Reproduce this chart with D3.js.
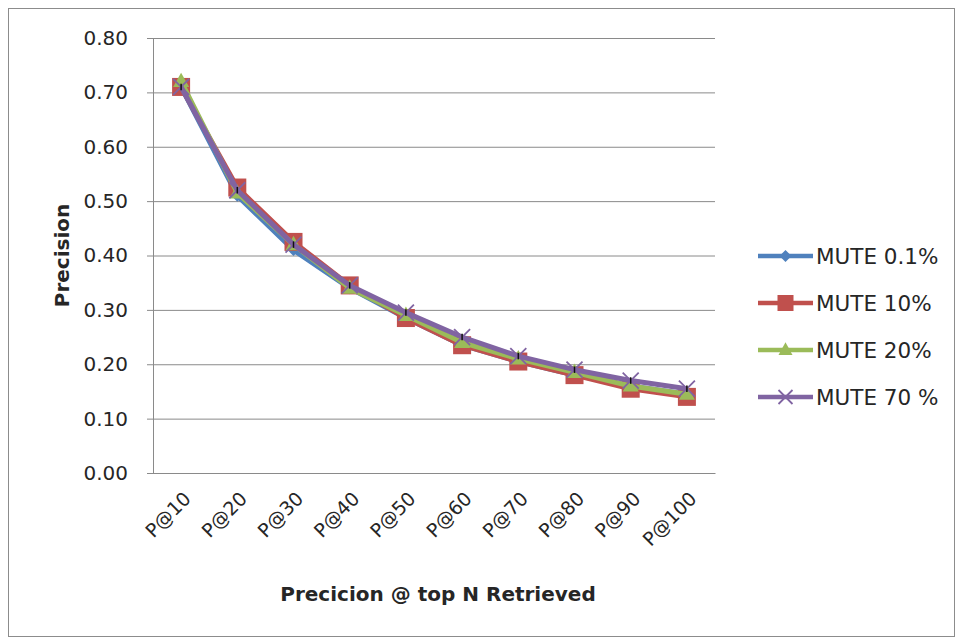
<!DOCTYPE html>
<html>
<head>
<meta charset="utf-8">
<script src="https://cdn.jsdelivr.net/npm/d3@7/dist/d3.min.js"></script>
<style>
  html, body { margin: 0; padding: 0; background: #fff; }
  svg { display: block; font-family: "DejaVu Sans", sans-serif; }
</style>
</head>
<body>
<svg id="chart" width="957" height="639"></svg>
<script>
// Precision at top-N retrieved, for four MUTE settings
const categories = ["P@10", "P@20", "P@30", "P@40", "P@50", "P@60", "P@70", "P@80", "P@90", "P@100"];
const seriesNames = ["MUTE 0.1%", "MUTE 10%", "MUTE 20%", "MUTE 70 %"];
const mute01 = [0.710, 0.510, 0.410, 0.340, 0.285, 0.235, 0.205, 0.180, 0.160, 0.145];
const mute10 = [0.710, 0.525, 0.425, 0.345, 0.285, 0.235, 0.205, 0.180, 0.155, 0.140];
const mute20 = [0.720, 0.515, 0.420, 0.340, 0.290, 0.240, 0.210, 0.185, 0.160, 0.145];
const mute70 = [0.710, 0.520, 0.420, 0.345, 0.295, 0.250, 0.215, 0.190, 0.170, 0.155];
const errHalf = [0.006, 0.006, 0.006, 0.006, 0.006, 0.006, 0.006, 0.006, 0.006, 0.006];
const yTicks = [0, 0.1, 0.2, 0.3, 0.4, 0.5, 0.6, 0.7, 0.8];

const colors = ["#4F81BD", "#C0504D", "#9BBB59", "#8064A2"];
const markers = ["diamond", "square", "triangle", "cross"];
const seriesValues = [mute01, mute10, mute20, mute70];

const svg = d3.select("#chart");
const textColor = "#262626";

// outer chart frame
svg.append("rect")
  .attr("x", 8.5).attr("y", 8.5).attr("width", 946).attr("height", 628)
  .attr("fill", "#fff").attr("stroke", "#8c8c8c").attr("stroke-width", 1);

const plot = { left: 153, right: 715, top: 38, bottom: 473 };

const x = d3.scaleBand().domain(categories).range([plot.left, plot.right]);
const y = d3.scaleLinear().domain([0, 0.8]).range([plot.bottom, plot.top]);

// horizontal gridlines with tick marks on the left
const yAxis = d3.axisLeft(y)
  .tickValues(yTicks)
  .tickFormat(d3.format(".2f"))
  .tickSize(-(plot.right - plot.left))
  .tickPadding(25);
const gy = svg.append("g").attr("transform", `translate(${plot.left},0)`).call(yAxis);
gy.select(".domain").remove();
gy.selectAll(".tick line")
  .attr("x1", -6)
  .attr("stroke", "#8a8a8a").attr("stroke-width", 1);
gy.selectAll(".tick text")
  .attr("fill", textColor).attr("font-size", 20).attr("font-family", "DejaVu Sans");

// vertical axis line
svg.append("line")
  .attr("x1", plot.left + 0.5).attr("x2", plot.left + 0.5)
  .attr("y1", plot.top).attr("y2", plot.bottom)
  .attr("stroke", "#8a8a8a");

// category axis
const xAxis = d3.axisBottom(x).tickSize(0).tickPadding(0);
const gx = svg.append("g").attr("transform", `translate(0,${plot.bottom})`).call(xAxis);
gx.select(".domain").attr("stroke", "#8a8a8a");
gx.selectAll(".tick text")
  .attr("fill", textColor).attr("font-size", 19).attr("font-family", "DejaVu Sans")
  .attr("text-anchor", "end")
  .attr("dy", 0)
  .attr("y", 0)
  .attr("transform", "translate(11,27) rotate(-45)");

// axis titles
svg.append("text")
  .attr("transform", `translate(69,${(plot.top + plot.bottom) / 2}) rotate(-90)`)
  .attr("text-anchor", "middle")
  .attr("font-size", 20).attr("font-weight", "bold").attr("fill", textColor)
  .text("Precision");
svg.append("text")
  .attr("x", 438).attr("y", 601)
  .attr("text-anchor", "middle")
  .attr("font-size", 20).attr("font-weight", "bold").attr("fill", textColor)
  .text("Precicion @ top N Retrieved");

const cx = c => x(c) + x.bandwidth() / 2;

function drawMarker(g, type, color, px, py, s) {
  if (type === "diamond") {
    g.append("path")
      .attr("d", `M${px},${py - s}L${px + s},${py}L${px},${py + s}L${px - s},${py}Z`)
      .attr("fill", color);
  } else if (type === "square") {
    g.append("rect")
      .attr("x", px - s).attr("y", py - s).attr("width", 2 * s).attr("height", 2 * s)
      .attr("fill", color);
  } else if (type === "triangle") {
    g.append("path")
      .attr("d", `M${px},${py - s * 1.1}L${px + s},${py + s * 0.7}L${px - s},${py + s * 0.7}Z`)
      .attr("fill", color);
  } else {
    g.append("path")
      .attr("d", `M${px - s},${py - s}L${px + s},${py + s}M${px + s},${py - s}L${px - s},${py + s}`)
      .attr("stroke", color).attr("stroke-width", 1.8).attr("fill", "none");
  }
}

const line = d3.line().x((d, i) => cx(categories[i])).y(d => y(d));
const markerSize = [6, 9, 8, 8];

seriesValues.forEach((vals, k) => {
  const g = svg.append("g");
  g.append("path")
    .datum(vals)
    .attr("d", line)
    .attr("fill", "none")
    .attr("stroke", colors[k])
    .attr("stroke-width", 5)
    .attr("stroke-linejoin", "round");
  vals.forEach((v, i) => drawMarker(g, markers[k], colors[k], cx(categories[i]), y(v), markerSize[k]));
});

// small error bars on the last series
const gErr = svg.append("g");
mute70.forEach((v, i) => {
  gErr.append("line")
    .attr("x1", cx(categories[i])).attr("x2", cx(categories[i]))
    .attr("y1", y(v + errHalf[i])).attr("y2", y(v - errHalf[i]))
    .attr("stroke", "#111").attr("stroke-width", 1.5);
});

// legend
const legend = svg.append("g");
const legendMarker = [6, 8, 7, 7];
seriesNames.forEach((name, k) => {
  const ly = 256 + k * 47;
  legend.append("line")
    .attr("x1", 758).attr("x2", 813).attr("y1", ly).attr("y2", ly)
    .attr("stroke", colors[k]).attr("stroke-width", 4.5);
  drawMarker(legend, markers[k], colors[k], 785.5, ly, legendMarker[k]);
  legend.append("text")
    .attr("x", 816).attr("y", ly).attr("dy", "0.36em")
    .attr("font-size", 21.5).attr("fill", textColor)
    .text(name);
});
</script>
</body>
</html>
